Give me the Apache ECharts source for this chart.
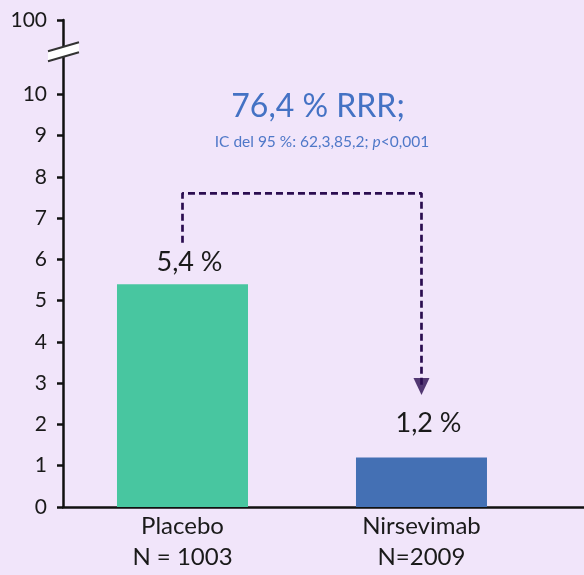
<!DOCTYPE html>
<html>
<head>
<meta charset="utf-8">
<script src="https://cdn.jsdelivr.net/npm/echarts@6/dist/echarts.min.js"></script>
<style>
  html, body { margin: 0; padding: 0; background: #F1E5FA; }
  #chart { width: 584px; height: 575px; }
</style>
</head>
<body>
<div id="chart"></div>
<script>
// Groups and their sample sizes
const categories = ['Placebo', 'Nirsevimab'];
const groupSizes = ['N = 1003', 'N=2009'];
// Incidence (%) per group
const incidence = [5.4, 1.2];
const barColors = ['#48C6A0', '#4470B4'];

// Y axis: linear 0–10, then a broken segment up to the "100" mark at the top
const yTicks = [0, 1, 2, 3, 4, 5, 6, 7, 8, 9, 10];
const yTopValue = 11.8;       // where the top label sits on the linear scale
const yTopLabel = '100';
const yBreakValue = 11.03;    // centre of the break symbol

// Dashed connector between the two groups (in data units)
const connectorFrom = 6.4;
const connectorTop = 7.6;
const connectorTo = 2.92;

const headline = '76,4 % RRR;';
const subline = 'IC del 95 %: 62,3,85,2; ';

const FONT = 'Lato, "Open Sans", sans-serif';

const fmtPct = v => v.toFixed(1).replace('.', ',') + ' %';
const labelDistances = [8, 21];

const chart = echarts.init(document.getElementById('chart'), null, { renderer: 'canvas' });

const option = {
  backgroundColor: '#F1E5FA',
  animation: false,
  title: [
    {
      text: headline,
      left: 318,
      top: 91,
      padding: 0,
      textAlign: 'center',
      textStyle: { fontFamily: FONT, fontSize: 32, fontWeight: 'normal', color: '#4472C4' }
    },
    {
      text: '{n|' + subline + '}{i|p}{n|<0,001}',
      left: 322,
      top: 134,
      padding: 0,
      textAlign: 'center',
      textStyle: {
        fontFamily: FONT,
        fontSize: 15.5,
        fontWeight: 'normal',
        color: '#4F78C8',
        rich: {
          n: { fontFamily: FONT, fontSize: 15.5, color: '#4F78C8' },
          i: { fontFamily: FONT, fontSize: 15.5, fontStyle: 'italic', color: '#4F78C8' }
        }
      }
    }
  ],
  grid: { left: 63, right: 0, top: 20, bottom: 68, containLabel: false },
  xAxis: {
    type: 'value',
    min: -0.5,
    max: 1.68,
    splitLine: { show: false },
    axisLine: { show: true, onZero: false, lineStyle: { color: '#111', width: 2.5 } },
    axisTick: { show: false },
    axisLabel: {
      customValues: [0, 1],
      margin: 4,
      fontFamily: FONT,
      fontSize: 24,
      lineHeight: 31,
      color: '#1a1a1a',
      formatter: v => {
        const i = Math.round(v);
        return categories[i] + '\n' + groupSizes[i];
      }
    }
  },
  yAxis: {
    type: 'value',
    min: 0,
    max: yTopValue,
    splitLine: { show: false },
    axisLine: { show: true, onZero: false, lineStyle: { color: '#111', width: 2.5 } },
    axisTick: {
      show: true,
      length: 6,
      customValues: yTicks.concat([yTopValue]),
      lineStyle: { color: '#111', width: 2.5 }
    },
    axisLabel: {
      customValues: yTicks.concat([yTopValue]),
      margin: 16,
      fontFamily: FONT,
      fontSize: 21,
      color: '#1a1a1a',
      formatter: v => (Math.abs(v - yTopValue) < 1e-6 ? yTopLabel : String(v))
    }
  },
  series: [
    {
      type: 'bar',
      barWidth: 131,
      data: incidence.map((v, i) => ({
        value: [i, v],
        itemStyle: { color: barColors[i] },
        label: {
          show: true,
          position: 'top',
          distance: labelDistances[i],
          offset: [7, 0],
          formatter: () => fmtPct(v),
          fontFamily: FONT,
          fontSize: 27,
          color: '#1a1a1a'
        }
      })),
      z: 2
    },
    {
      type: 'line',
      silent: true,
      symbol: 'none',
      lineStyle: { color: '#2B0D50', width: 2.7, type: [7, 4] },
      data: [[0, connectorFrom], [0, connectorTop], [1, connectorTop], [1, connectorTo]],
      z: 3
    },
    {
      type: 'scatter',
      silent: true,
      symbol: 'triangle',
      symbolRotate: 180,
      symbolSize: [16, 17],
      itemStyle: { color: '#2B0D50' },
      data: [[1, connectorTo]],
      z: 4
    }
  ]
};

chart.setOption(option);

// Axis break symbol: white slanted band with two parallel strokes across the y axis
const bx = chart.convertToPixel({ xAxisIndex: 0 }, -0.5);
const by = chart.convertToPixel({ yAxisIndex: 0 }, yBreakValue);
chart.setOption({
  graphic: [
    {
      type: 'polygon',
      z: 100,
      shape: { points: [[bx - 15, by - 0.6], [bx + 16, by - 9.6], [bx + 16, by + 0.4], [bx - 15, by + 9.4]] },
      style: { fill: '#ffffff' }
    },
    {
      type: 'polyline',
      z: 101,
      shape: { points: [[bx - 15, by - 0.6], [bx + 16, by - 9.6]] },
      style: { stroke: '#333', lineWidth: 2, fill: null }
    },
    {
      type: 'polyline',
      z: 101,
      shape: { points: [[bx - 15, by + 9.4], [bx + 16, by + 0.4]] },
      style: { stroke: '#333', lineWidth: 2, fill: null }
    }
  ]
});
</script>
</body>
</html>
